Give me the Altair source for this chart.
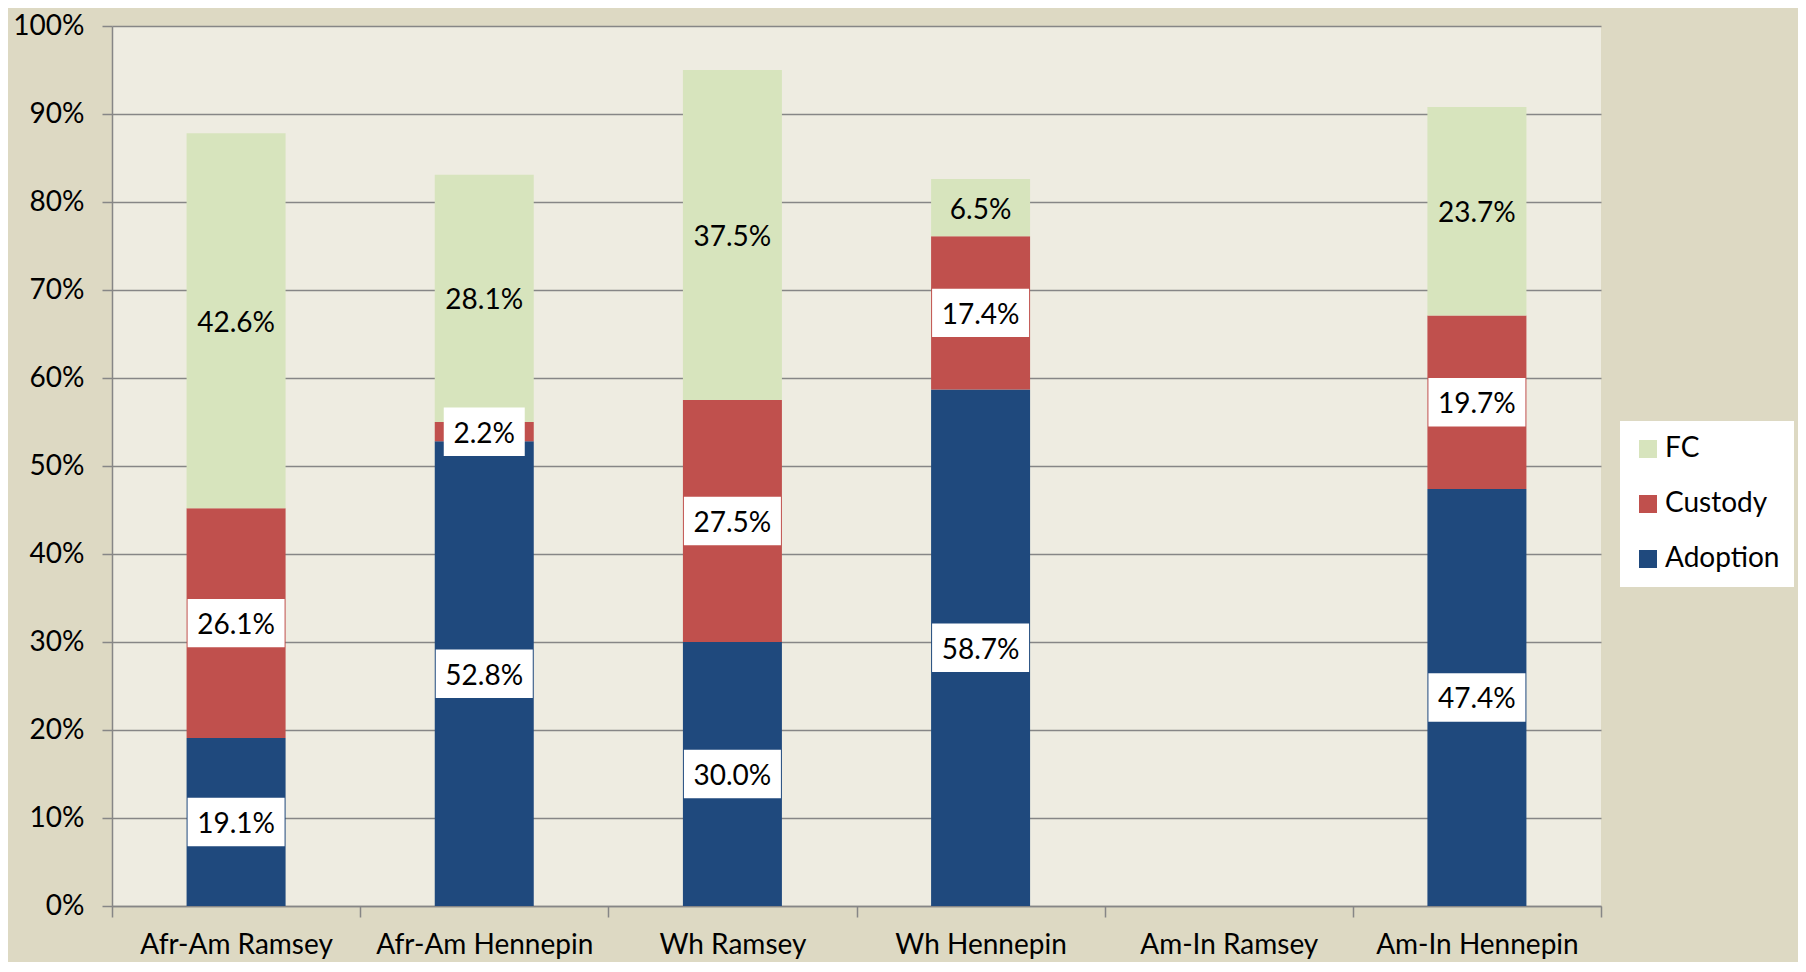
import altair as alt
import pandas as pd

categories = ["Afr-Am Ramsey", "Afr-Am Hennepin", "Wh Ramsey", "Wh Hennepin", "Am-In Ramsey", "Am-In Hennepin"]
series_names = ["Adoption", "Custody", "FC"]
adoption = [19.1, 52.8, 30.0, 58.7, None, 47.4]
custody = [26.1, 2.2, 27.5, 17.4, None, 19.7]
fc = [42.6, 28.1, 37.5, 6.5, None, 23.7]

colors = {"FC": "#D7E4BD", "Custody": "#C0504D", "Adoption": "#1F497D"}

rows = []
for ci, cat in enumerate(categories):
    for si, (name, vals) in enumerate(zip(series_names, [adoption, custody, fc])):
        v = vals[ci]
        if v is None:
            continue
        rows.append({"category": cat, "series": name, "order": si,
                     "value": v / 100.0, "label": f"{v:.1f}%"})
df = pd.DataFrame(rows)

FONT = "Lato"
GRID = "#868686"
HALF_BOX = 0.0275

base = alt.Chart(df).transform_stack(
    stack="value", groupby=["category"], as_=["y0", "y1"],
    sort=[alt.SortField("order", order="ascending")]
).transform_calculate(
    mid="(datum.y0 + datum.y1) / 2",
    blo="(datum.y0 + datum.y1) / 2 - %f" % HALF_BOX,
    bhi="(datum.y0 + datum.y1) / 2 + %f" % HALF_BOX,
    llen="length(datum.label)",
)

xenc = alt.X("category:N",
             scale=alt.Scale(domain=categories, paddingInner=0, paddingOuter=0),
             sort=categories,
             axis=alt.Axis(title=None, labelAngle=0, tickBand="extent", tickSize=11,
                           labelPadding=14, labelFont=FONT, labelFontSize=28, labelLimit=0,
                           labelColor="black", domainColor=GRID, tickColor=GRID,
                           domainWidth=1.5, tickWidth=1.5, grid=False))

yscale = alt.Scale(domain=[0, 1], nice=False, zero=True)

bars = base.mark_bar(width=99).encode(
    x=xenc,
    y=alt.Y("y0:Q", scale=yscale,
            axis=alt.Axis(title=None, values=[i / 10 for i in range(11)], format=".0%",
                          labelFont=FONT, labelFontSize=28, labelColor="black",
                          tickColor=GRID, tickSize=10, tickWidth=1.5,
                          domainColor=GRID, domainWidth=1.5,
                          grid=True, gridColor=GRID, gridWidth=1.5,
                          labelPadding=18)),
    y2="y1:Q",
    color=alt.Color("series:N",
                    scale=alt.Scale(domain=["FC", "Custody", "Adoption"],
                                    range=[colors["FC"], colors["Custody"], colors["Adoption"]]),
                    legend=alt.Legend(title=None, orient="none", legendX=1508, legendY=395,
                                      fillColor="white", padding=14, symbolType="square",
                                      symbolSize=324, symbolStrokeWidth=0,
                                      labelFont=FONT, labelFontSize=28, labelColor="black",
                                      rowPadding=27, labelOffset=3)),
)

boxes_long = base.transform_filter("datum.series != 'FC' && datum.llen >= 5").mark_bar(
    width=97, color="white").encode(
    x=alt.X("category:N", sort=categories),
    y=alt.Y("blo:Q", scale=yscale, title=None),
    y2="bhi:Q",
)
boxes_short = base.transform_filter("datum.series != 'FC' && datum.llen < 5").mark_bar(
    width=81, color="white").encode(
    x=alt.X("category:N", sort=categories),
    y=alt.Y("blo:Q", scale=yscale, title=None),
    y2="bhi:Q",
)

labels = base.mark_text(font=FONT, fontSize=28, color="black", baseline="middle",
                        align="center", dy=3).encode(
    x=alt.X("category:N", sort=categories),
    y=alt.Y("mid:Q", scale=yscale, title=None),
    text="label:N",
)

chart = alt.layer(bars, boxes_long, boxes_short, labels).properties(
    width=1489, height=880,
    background="#DDD9C3",
    padding={"left": 104, "top": 18, "right": 197, "bottom": 56},
    autosize=alt.AutoSizeParams(type="none"),
).configure_view(fill="#EEECE1", strokeWidth=0)

chart.save("out.html", embed_options={"renderer": "svg", "actions": False})
